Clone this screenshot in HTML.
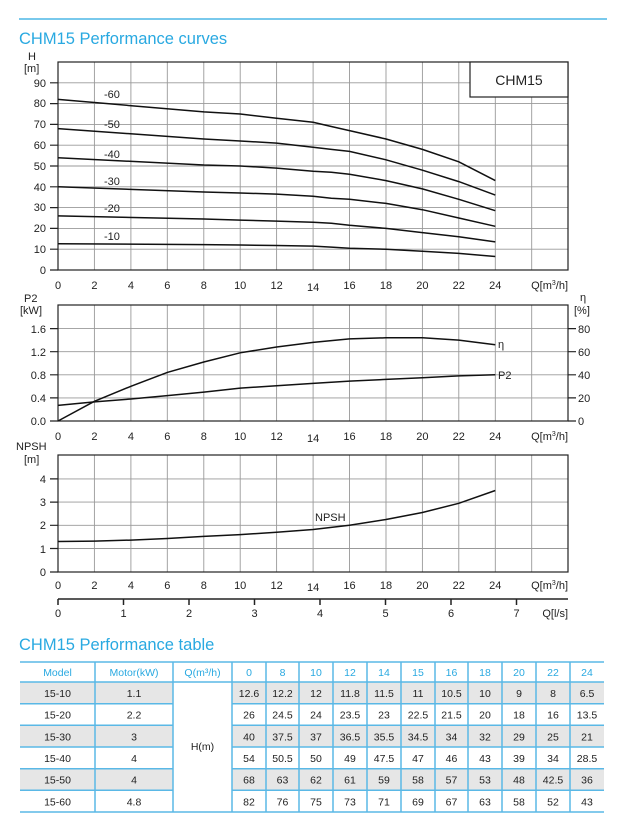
<!DOCTYPE html>
<html><head><meta charset="utf-8"><style>
body{margin:0;background:#fff;width:619px;height:826px;overflow:hidden;font-family:"Liberation Sans",sans-serif}
svg{position:absolute;left:0;top:0}
</style></head><body>
<svg width="619" height="826" viewBox="0 0 619 826" font-family="Liberation Sans, sans-serif">
<line x1="19" y1="19" x2="607" y2="19" stroke="#29a9e1" stroke-width="1.2"/>
<text x="19" y="44" font-size="16.5" fill="#29a9e1">CHM15 Performance curves</text>
<g stroke="#999" stroke-width="0.9">
<!-- top grid -->
<path d="M94.4 62V270M130.9 62V270M167.3 62V270M203.8 62V270M240.2 62V270M276.6 62V270M313.1 62V270M349.5 62V270M386 62V270M422.4 62V270M458.8 62V270M495.3 62V270M531.7 62V270"/>
<path d="M58 249.2H568M58 228.4H568M58 207.6H568M58 186.8H568M58 166H568M58 145.2H568M58 124.4H568M58 103.6H568M58 82.8H568"/>
<!-- middle grid -->
<path d="M94.4 305V421M130.9 305V421M167.3 305V421M203.8 305V421M240.2 305V421M276.6 305V421M313.1 305V421M349.5 305V421M386 305V421M422.4 305V421M458.8 305V421M495.3 305V421M531.7 305V421"/>
<path d="M58 397.9H568M58 374.8H568M58 351.7H568M58 328.6H568"/>
<!-- bottom grid -->
<path d="M94.4 455V572M130.9 455V572M167.3 455V572M203.8 455V572M240.2 455V572M276.6 455V572M313.1 455V572M349.5 455V572M386 455V572M422.4 455V572M458.8 455V572M495.3 455V572M531.7 455V572"/>
<path d="M58 548.5H568M58 525.3H568M58 502.1H568M58 478.9H568"/>
</g>
<g fill="none" stroke="#222" stroke-width="1.2">
<rect x="58" y="62" width="510" height="208"/>
<rect x="58" y="305" width="510" height="116"/>
<rect x="58" y="455" width="510" height="117"/>
<path d="M50 270H58M50 249.2H58M50 228.4H58M50 207.6H58M50 186.8H58M50 166H58M50 145.2H58M50 124.4H58M50 103.6H58M50 82.8H58"/>
<path d="M50 421H58M50 397.9H58M50 374.8H58M50 351.7H58M50 328.6H58M568 421H576M568 397.9H576M568 374.8H576M568 351.7H576M568 328.6H576"/>
<path d="M50 572H58M50 548.5H58M50 525.3H58M50 502.1H58M50 478.9H58"/>
<path d="M58 599H568M58 599V605M123.5 599V605M189 599V605M254.5 599V605M320 599V605M385.5 599V605M451 599V605M516.5 599V605" stroke-width="1.5"/>
</g>
<rect x="470" y="62" width="98" height="35" fill="#fff" stroke="#222" stroke-width="1.2"/>
<text x="519" y="85" font-size="14" text-anchor="middle" fill="#222">CHM15</text>
<g fill="none" stroke="#111" stroke-width="1.5">
<polyline points="58,243.8 203.8,244.6 240.2,245 276.6,245.5 313.1,246.1 331.3,247.1 349.5,248.2 386,249.2 422.4,251.3 458.8,253.4 495.3,256.5"/>
<polyline points="58,215.9 203.8,219 240.2,220.1 276.6,221.1 313.1,222.2 331.3,223.2 349.5,225.3 386,228.4 422.4,232.6 458.8,236.7 495.3,241.9"/>
<polyline points="58,186.8 203.8,192 240.2,193 276.6,194.1 313.1,196.2 331.3,198.2 349.5,199.3 386,203.4 422.4,209.7 458.8,218 495.3,226.3"/>
<polyline points="58,157.7 203.8,165 240.2,166 276.6,168.1 313.1,171.2 331.3,172.2 349.5,174.3 386,180.6 422.4,188.9 458.8,199.3 495.3,210.7"/>
<polyline points="58,128.6 203.8,139 240.2,141 276.6,143.1 313.1,147.3 331.3,149.4 349.5,151.4 386,159.8 422.4,170.2 458.8,181.6 495.3,195.1"/>
<polyline points="58,99.4 203.8,111.9 240.2,114 276.6,118.2 313.1,122.3 331.3,126.5 349.5,130.6 386,139 422.4,149.4 458.8,161.8 495.3,180.6"/>
<polyline points="58,405.4 94.4,401.9 130.9,399 167.3,395.6 203.8,392.1 240.2,388.1 276.6,385.7 313.1,383.4 349.5,381.1 386,379.4 422.4,377.7 458.8,375.9 495.3,374.8"/>
<polyline points="58,421 94.4,401.3 130.9,386.3 167.3,372.4 203.8,362 240.2,352.8 276.6,347 313.1,342.4 349.5,338.9 386,337.8 422.4,337.8 458.8,340.1 495.3,344.7"/>
<polyline points="58,541.5 94.4,541.1 130.9,540.1 167.3,538.5 203.8,536.4 240.2,534.6 276.6,532.3 313.1,529.5 349.5,525.3 386,519.5 422.4,512.5 458.8,503.3 495.3,490.5"/>
</g>
<g font-size="11" fill="#222">
<text x="104" y="98">-60</text><text x="104" y="128">-50</text><text x="104" y="158">-40</text><text x="104" y="185">-30</text><text x="104" y="212">-20</text><text x="104" y="240">-10</text>
<text x="498" y="348">η</text><text x="498" y="379">P2</text><text x="315" y="521">NPSH</text>
<text x="28" y="60">H</text><text x="24" y="72">[m]</text>
<text x="24" y="302">P2</text><text x="20" y="314">[kW]</text>
<text x="580" y="301">η</text><text x="574" y="314">[%]</text>
<text x="16" y="450">NPSH</text><text x="24" y="463">[m]</text>
</g>
<g font-size="11" fill="#222" text-anchor="end">
<text x="46" y="274">0</text><text x="46" y="253">10</text><text x="46" y="232">20</text><text x="46" y="211">30</text><text x="46" y="191">40</text><text x="46" y="170">50</text><text x="46" y="149">60</text><text x="46" y="128">70</text><text x="46" y="107">80</text><text x="46" y="87">90</text>
<text x="46" y="425">0.0</text><text x="46" y="402">0.4</text><text x="46" y="379">0.8</text><text x="46" y="356">1.2</text><text x="46" y="333">1.6</text>
<text x="46" y="576">0</text><text x="46" y="553">1</text><text x="46" y="529">2</text><text x="46" y="506">3</text><text x="46" y="483">4</text>
</g>
<g font-size="11" fill="#222">
<text x="578" y="425">0</text><text x="578" y="402">20</text><text x="578" y="379">40</text><text x="578" y="356">60</text><text x="578" y="333">80</text>
</g>
<g font-size="11" fill="#222" text-anchor="middle">
<g id="xl">
<text x="58" y="289">0</text><text x="94.4" y="289">2</text><text x="130.9" y="289">4</text><text x="167.3" y="289">6</text><text x="203.8" y="289">8</text><text x="240.2" y="289">10</text><text x="276.6" y="289">12</text><text x="313.1" y="291">14</text><text x="349.5" y="289">16</text><text x="386" y="289">18</text><text x="422.4" y="289">20</text><text x="458.8" y="289">22</text><text x="495.3" y="289">24</text>
</g>
<use href="#xl" y="151"/>
<use href="#xl" y="300"/>
<text x="58" y="617">0</text><text x="123.5" y="617">1</text><text x="189" y="617">2</text><text x="254.5" y="617">3</text><text x="320" y="617">4</text><text x="385.5" y="617">5</text><text x="451" y="617">6</text><text x="516.5" y="617">7</text>
</g>
<g font-size="11" fill="#222" text-anchor="end">
<text x="568" y="289">Q[m<tspan font-size="7" dy="-4">3</tspan><tspan dy="4">/h]</tspan></text>
<text x="568" y="440">Q[m<tspan font-size="7" dy="-4">3</tspan><tspan dy="4">/h]</tspan></text>
<text x="568" y="589">Q[m<tspan font-size="7" dy="-4">3</tspan><tspan dy="4">/h]</tspan></text>
<text x="568" y="617">Q[l/s]</text>
</g>
<text x="19" y="650" font-size="16.5" fill="#29a9e1">CHM15 Performance table</text>
<!-- table -->
<g fill="#e6e6e6">
<rect x="20" y="682" width="153" height="21.7"/><rect x="232" y="682" width="372" height="21.7"/>
<rect x="20" y="725.3" width="153" height="21.7"/><rect x="232" y="725.3" width="372" height="21.7"/>
<rect x="20" y="768.7" width="153" height="21.7"/><rect x="232" y="768.7" width="372" height="21.7"/>
</g>
<g stroke="#5ab8e6" stroke-width="1.5" fill="none">
<path d="M20 662H604M20 682H604M20 812H604"/>
<path d="M20 703.7H173M232 703.7H604M20 725.3H173M232 725.3H604M20 747H173M232 747H604M20 768.7H173M232 768.7H604M20 790.3H173M232 790.3H604"/>
<path d="M95 662V812M173 662V812M232 662V812M266 662V812M299 662V812M333 662V812M367 662V812M401 662V812M435 662V812M468 662V812M502 662V812M536 662V812M570 662V812"/>
</g>
<g font-size="10.5" fill="#29a9e1" text-anchor="middle">
<text x="57.5" y="676">Model</text><text x="134" y="676">Motor(kW)</text><text x="202.5" y="676">Q(m³/h)</text>
<text x="249" y="676">0</text><text x="282.5" y="676">8</text><text x="316" y="676">10</text><text x="350" y="676">12</text><text x="384" y="676">14</text><text x="418" y="676">15</text><text x="451.5" y="676">16</text><text x="485" y="676">18</text><text x="519" y="676">20</text><text x="553" y="676">22</text><text x="587" y="676">24</text>
</g>
<g font-size="10.5" fill="#222" text-anchor="middle">
<text x="202.5" y="750">H(m)</text>
<g id="r1"><text x="57.5" y="697">15-10</text><text x="134" y="697">1.1</text><text x="249" y="697">12.6</text><text x="282.5" y="697">12.2</text><text x="316" y="697">12</text><text x="350" y="697">11.8</text><text x="384" y="697">11.5</text><text x="418" y="697">11</text><text x="451.5" y="697">10.5</text><text x="485" y="697">10</text><text x="519" y="697">9</text><text x="553" y="697">8</text><text x="587" y="697">6.5</text></g>
<g><text x="57.5" y="718.7">15-20</text><text x="134" y="718.7">2.2</text><text x="249" y="718.7">26</text><text x="282.5" y="718.7">24.5</text><text x="316" y="718.7">24</text><text x="350" y="718.7">23.5</text><text x="384" y="718.7">23</text><text x="418" y="718.7">22.5</text><text x="451.5" y="718.7">21.5</text><text x="485" y="718.7">20</text><text x="519" y="718.7">18</text><text x="553" y="718.7">16</text><text x="587" y="718.7">13.5</text></g>
<g><text x="57.5" y="740.3">15-30</text><text x="134" y="740.3">3</text><text x="249" y="740.3">40</text><text x="282.5" y="740.3">37.5</text><text x="316" y="740.3">37</text><text x="350" y="740.3">36.5</text><text x="384" y="740.3">35.5</text><text x="418" y="740.3">34.5</text><text x="451.5" y="740.3">34</text><text x="485" y="740.3">32</text><text x="519" y="740.3">29</text><text x="553" y="740.3">25</text><text x="587" y="740.3">21</text></g>
<g><text x="57.5" y="762">15-40</text><text x="134" y="762">4</text><text x="249" y="762">54</text><text x="282.5" y="762">50.5</text><text x="316" y="762">50</text><text x="350" y="762">49</text><text x="384" y="762">47.5</text><text x="418" y="762">47</text><text x="451.5" y="762">46</text><text x="485" y="762">43</text><text x="519" y="762">39</text><text x="553" y="762">34</text><text x="587" y="762">28.5</text></g>
<g><text x="57.5" y="783.7">15-50</text><text x="134" y="783.7">4</text><text x="249" y="783.7">68</text><text x="282.5" y="783.7">63</text><text x="316" y="783.7">62</text><text x="350" y="783.7">61</text><text x="384" y="783.7">59</text><text x="418" y="783.7">58</text><text x="451.5" y="783.7">57</text><text x="485" y="783.7">53</text><text x="519" y="783.7">48</text><text x="553" y="783.7">42.5</text><text x="587" y="783.7">36</text></g>
<g><text x="57.5" y="805.3">15-60</text><text x="134" y="805.3">4.8</text><text x="249" y="805.3">82</text><text x="282.5" y="805.3">76</text><text x="316" y="805.3">75</text><text x="350" y="805.3">73</text><text x="384" y="805.3">71</text><text x="418" y="805.3">69</text><text x="451.5" y="805.3">67</text><text x="485" y="805.3">63</text><text x="519" y="805.3">58</text><text x="553" y="805.3">52</text><text x="587" y="805.3">43</text></g>
</g>
</svg>
</body></html>
